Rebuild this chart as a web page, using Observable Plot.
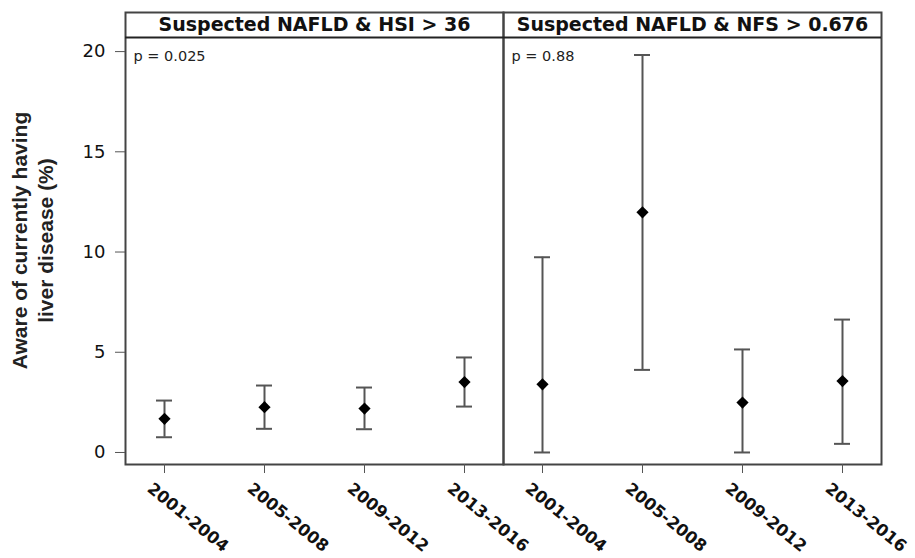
<!DOCTYPE html>
<html>
<head>
<meta charset="utf-8">
<script src="https://cdn.jsdelivr.net/npm/d3@7"></script>
<script src="https://cdn.jsdelivr.net/npm/@observablehq/plot@0.6"></script>
<style>
  html, body { margin: 0; padding: 0; background: #fff; }
  #chart svg { display: block; }
</style>
</head>
<body>
<div id="chart"></div>
<script>
const panels = ["Suspected NAFLD & HSI > 36", "Suspected NAFLD & NFS > 0.676"];
const periods = ["2001-2004", "2005-2008", "2009-2012", "2013-2016"];
const hsiEst = [1.68, 2.26, 2.19, 3.51];
const hsiLo  = [0.76, 1.18, 1.16, 2.29];
const hsiHi  = [2.59, 3.34, 3.24, 4.74];
const nfsEst = [3.40, 11.98, 2.49, 3.56];
const nfsLo  = [0.00, 4.12, 0.00, 0.43];
const nfsHi  = [9.74, 19.83, 5.14, 6.63];
const pValues = ["p = 0.025", "p = 0.88"];
const yTicks = [0, 5, 10, 15, 20];
const yLabel = "Aware of currently having\nliver disease (%)";

const rows = [];
periods.forEach((p, i) => rows.push({panel: panels[0], period: p, est: hsiEst[i], lo: hsiLo[i], hi: hsiHi[i]}));
periods.forEach((p, i) => rows.push({panel: panels[1], period: p, est: nfsEst[i], lo: nfsLo[i], hi: nfsHi[i]}));
const headers = panels.map((panel, i) => ({panel, p: pValues[i]}));

const yMin = -0.6, yDataTop = 20.7, yMax = 21.95;

const chart = Plot.plot({
  width: 915,
  height: 558,
  marginLeft: 124,
  marginRight: 34,
  marginTop: 12,
  marginBottom: 94,
  style: {fontFamily: "'DejaVu Sans', Verdana, sans-serif", color: "#111", background: "#fff"},
  fx: {domain: panels, axis: null, padding: 0},
  x: {type: "band", domain: periods, paddingInner: 0.84, paddingOuter: 0.3, label: null},
  y: {domain: [yMin, yMax], label: null},
  marks: [
    Plot.frame({stroke: "#444", strokeWidth: 2}),
    Plot.ruleY([yDataTop], {stroke: "#222", strokeWidth: 2}),
    Plot.text(headers, {fx: "panel", text: "panel", frameAnchor: "top", dy: 12.5, lineAnchor: "middle",
      fontSize: 19, fontWeight: "bold", fill: "#111"}),
    Plot.text(headers, {fx: "panel", text: "p", frameAnchor: "top-left", dx: 8, dy: 44, lineAnchor: "middle",
      textAnchor: "start", fontSize: 14.5, fill: "#222"}),
    Plot.ruleX(rows, {fx: "panel", x: "period", y1: "lo", y2: "hi", stroke: "#555", strokeWidth: 2}),
    Plot.tickY(rows, {fx: "panel", x: "period", y: "hi", stroke: "#555", strokeWidth: 2}),
    Plot.tickY(rows, {fx: "panel", x: "period", y: "lo", stroke: "#555", strokeWidth: 2}),
    Plot.dot(rows, {fx: "panel", x: "period", y: "est", symbol: "diamond2", r: 5.5, fill: "#000", stroke: "none"}),
    Plot.axisY({ticks: yTicks, tickSize: 10, tickPadding: 10, fontSize: 18, stroke: "#555", label: null}),
    Plot.text([{panel: panels[0], label: yLabel}], {fx: "panel", text: "label", frameAnchor: "left",
      rotate: -90, dx: -94, dy: 2, lineAnchor: "middle", textAnchor: "middle", lineHeight: 1.24,
      fontFamily: "'Liberation Sans', Arial, sans-serif", fontSize: 21, fontWeight: "bold", fill: "#222"}),
    Plot.axisX({tickSize: 9, tickFormat: () => "", stroke: "#555", label: null}),
    Plot.axisX({tickSize: 0, tickPadding: 13, tickRotate: 39, fontSize: 16.5, fontWeight: "bold",
      label: null, dx: -15, dy: 9})
  ]
});
document.getElementById("chart").appendChild(chart);
</script>
</body>
</html>
